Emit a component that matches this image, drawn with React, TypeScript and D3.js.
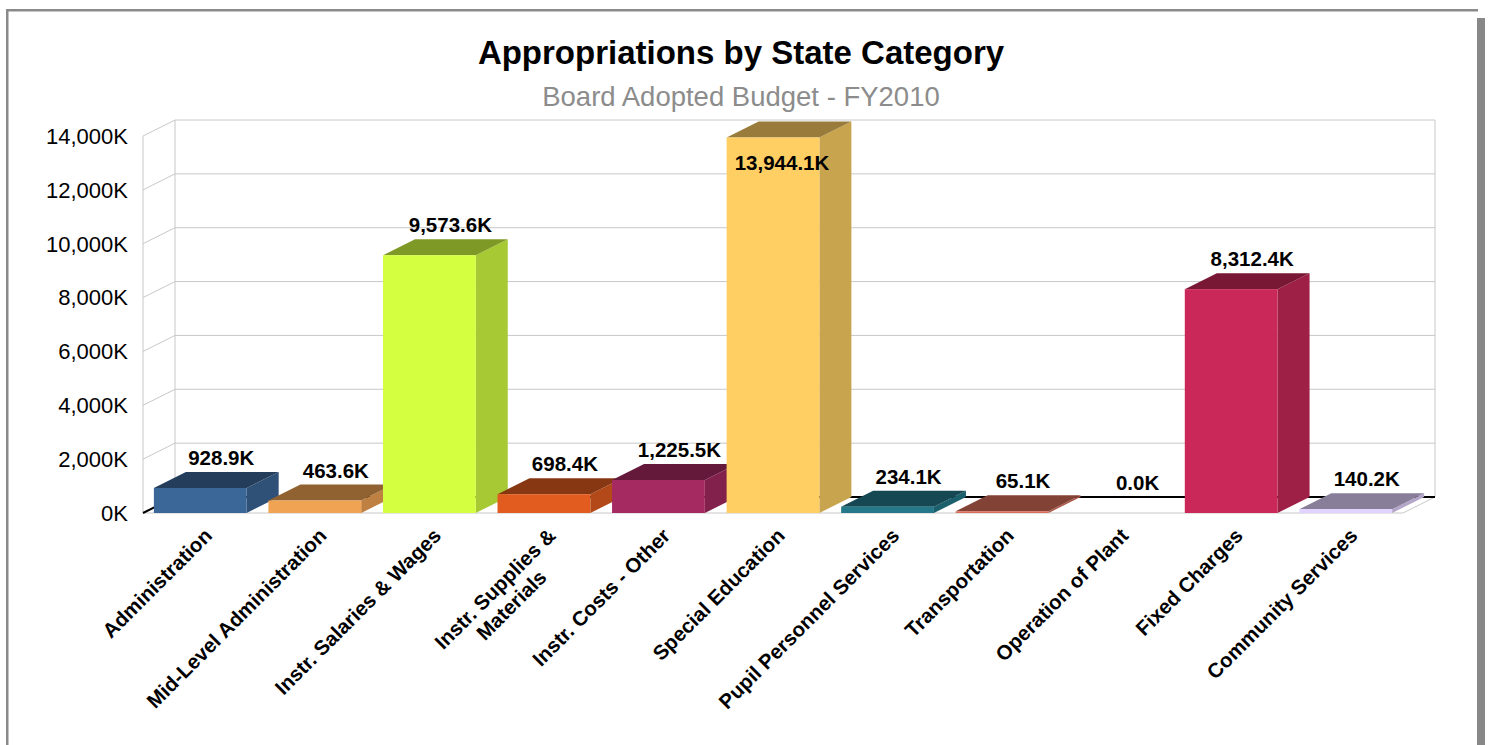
import React, { useEffect, useRef } from "react";
import * as d3 from "d3";

const categories: string[] = [
  "Administration",
  "Mid-Level Administration",
  "Instr. Salaries & Wages",
  "Instr. Supplies &\nMaterials",
  "Instr. Costs - Other",
  "Special Education",
  "Pupil Personnel Services",
  "Transportation",
  "Operation of Plant",
  "Fixed Charges",
  "Community Services",
];
const values: number[] = [928.9, 463.6, 9573.6, 698.4, 1225.5, 13944.1, 234.1, 65.1, 0.0, 8312.4, 140.2];
const colors: string[] = [
  "#3B6698", "#F0A352", "#D4FF41", "#E25C20", "#A62A62", "#FFCF63",
  "#24788A", "#DA6E5A", "#5B9BD5", "#C92858", "#E2D2FF",
];
const yTicks: number[] = [0, 2000, 4000, 6000, 8000, 10000, 12000, 14000];
const title = "Appropriations by State Category";
const subtitle = "Board Adopted Budget - FY2010";

const W = 1489;
const H = 745;
const FONT = "'Liberation Sans', Arial, Helvetica, sans-serif";

function shade(c: string, k: number): string {
  const r = d3.rgb(c);
  return d3.rgb(r.r * k, r.g * k, r.b * k).formatHex();
}

export default function App() {
  const ref = useRef<SVGSVGElement | null>(null);

  useEffect(() => {
    const svg = d3.select(ref.current);
    svg.selectAll("*").remove();

    const left = 143, right = 1403, bottom = 513, top = 136;
    const DX = 32, DY = 16;

    const x = d3.scaleBand<string>().domain(categories).range([left, right]).paddingInner(0.19).paddingOuter(0.095);
    const y = d3.scaleLinear().domain([0, 14000]).range([bottom, top]);

    svg.append("rect").attr("width", W).attr("height", H).attr("fill", "#fff");

    // frame
    svg.append("rect").attr("x", 6).attr("y", 9).attr("width", 1472).attr("height", 2.5).attr("fill", "#8a8a8a");
    svg.append("rect").attr("x", 6).attr("y", 9).attr("width", 2.5).attr("height", H).attr("fill", "#8a8a8a");
    svg.append("rect").attr("x", 1477).attr("y", 18).attr("width", 8).attr("height", H).attr("fill", "#888");

    // title
    svg.append("text").attr("x", 741).attr("y", 64).attr("text-anchor", "middle")
      .attr("font-family", FONT).attr("font-weight", "bold").attr("font-size", 33).attr("fill", "#000").text(title);
    svg.append("text").attr("x", 741).attr("y", 106).attr("text-anchor", "middle")
      .attr("font-family", FONT).attr("font-size", 27.5).attr("fill", "#8c8c8c").text(subtitle);

    const grid = "#c8c8c8";
    const g = svg.append("g");
    // floor
    g.append("path").attr("d", `M${left},${bottom}L${right},${bottom}L${right + DX},${bottom - DY}L${left + DX},${bottom - DY}Z`)
      .attr("fill", "#fff").attr("stroke", "none");
    g.append("line").attr("x1", left).attr("x2", right).attr("y1", bottom).attr("y2", bottom).attr("stroke", grid);
    g.append("line").attr("x1", right).attr("x2", right + DX).attr("y1", bottom).attr("y2", bottom - DY).attr("stroke", grid);
    // back wall
    g.append("line").attr("x1", left + DX).attr("x2", left + DX).attr("y1", y(14000) - DY).attr("y2", bottom - DY).attr("stroke", grid);
    g.append("line").attr("x1", right + DX).attr("x2", right + DX).attr("y1", y(14000) - DY).attr("y2", bottom - DY).attr("stroke", grid);
    g.append("line").attr("x1", left).attr("x2", left).attr("y1", y(14000)).attr("y2", bottom).attr("stroke", grid);
    yTicks.forEach((t) => {
      if (t === 0) return;
      g.append("line").attr("x1", left + DX).attr("x2", right + DX).attr("y1", y(t) - DY).attr("y2", y(t) - DY).attr("stroke", grid);
      g.append("line").attr("x1", left).attr("x2", left + DX).attr("y1", y(t)).attr("y2", y(t) - DY).attr("stroke", grid);
    });
    // baseline on back (black)
    g.append("line").attr("x1", left + DX).attr("x2", right + DX).attr("y1", bottom - DY).attr("y2", bottom - DY)
      .attr("stroke", "#000").attr("stroke-width", 2);
    g.append("line").attr("x1", left).attr("x2", left + DX).attr("y1", bottom).attr("y2", bottom - DY)
      .attr("stroke", "#000").attr("stroke-width", 2);

    // y labels
    yTicks.forEach((t) => {
      svg.append("text").attr("x", 128).attr("y", y(t)).attr("dy", "0.36em").attr("text-anchor", "end")
        .attr("font-family", FONT).attr("font-size", 22).attr("fill", "#000")
        .text(d3.format(",")(t) + "K");
    });

    // bars
    const bw = x.bandwidth();
    categories.forEach((c, i) => {
      const v = values[i];
      if (v <= 0) return;
      const x0 = x(c)!;
      const x1 = x0 + bw;
      const yt = y(v);
      const col = colors[i];
      const bg = svg.append("g");
      bg.append("path").attr("d", `M${x1},${yt}L${x1 + DX},${yt - DY}L${x1 + DX},${bottom - DY}L${x1},${bottom}Z`)
        .attr("fill", shade(col, 0.79));
      bg.append("path").attr("d", `M${x0},${yt}L${x0 + DX},${yt - DY}L${x1 + DX},${yt - DY}L${x1},${yt}Z`)
        .attr("fill", shade(col, 0.6));
      bg.append("rect").attr("x", x0).attr("y", yt).attr("width", bw).attr("height", Math.max(bottom - yt, 0.5)).attr("fill", col);
    });

    // value labels
    categories.forEach((c, i) => {
      const v = values[i];
      const cx = x(c)! + bw / 2;
      const yt = y(v);
      let lx = cx + 21;
      let ly = yt - DY - 7;
      if (ly - 16 < y(14000) - DY) {
        lx = cx + 9;
        ly = yt + 32;
      }
      svg.append("text").attr("x", lx).attr("y", ly).attr("text-anchor", "middle")
        .attr("font-family", FONT).attr("font-weight", "bold").attr("font-size", 20.5).attr("fill", "#000")
        .text(d3.format(",.1f")(v) + "K");
    });

    // category labels
    categories.forEach((c) => {
      const cx = x(c)! + bw / 2;
      const lines = c.split("\n");
      const tg = svg.append("g").attr("transform", `translate(${cx + 13},537) rotate(-45)`);
      const texts = lines.map((ln, j) =>
        tg.append("text").attr("y", j * 23)
          .attr("font-family", FONT).attr("font-weight", "bold").attr("font-size", 20.5).attr("fill", "#000").text(ln)
      );
      const widths = texts.map((t) => (t.node() as SVGTextElement).getComputedTextLength());
      const maxW = Math.max(...widths);
      texts.forEach((t) => t.attr("text-anchor", "middle").attr("x", -maxW / 2));
    });
  }, []);

  return (
    <svg ref={ref} width={W} height={H} style={{ position: "absolute", left: 0, top: 0, display: "block" }} />
  );
}
